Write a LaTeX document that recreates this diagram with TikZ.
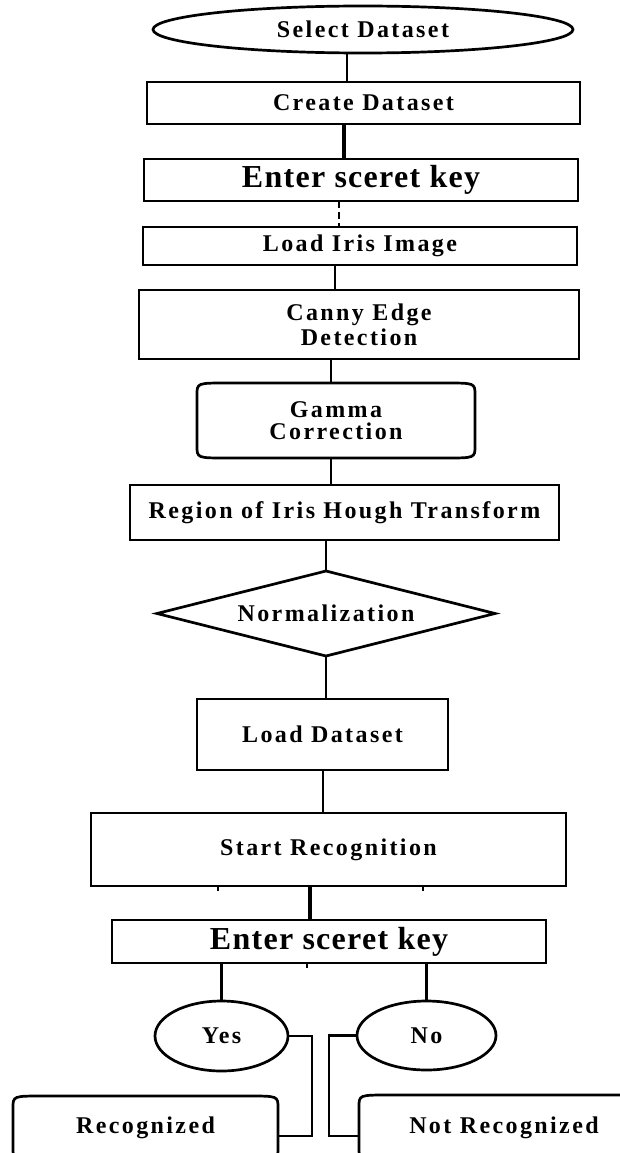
\documentclass[tikz,border=0pt]{standalone}
\usepackage{fontspec}
\setmainfont{Liberation Serif}
\newfontfamily\lblfont{Liberation Serif}[LetterSpace=10]
\newfontfamily\keyfont{Liberation Serif}[LetterSpace=4]
\usetikzlibrary{shapes.geometric}

\begin{document}
\begin{tikzpicture}[x=1pt,y=-1pt,line width=2.7pt,
		font=\lblfont\bfseries\fontsize{24}{25}\selectfont]
		\tikzstyle{box}=[draw,rectangle,inner sep=0pt,outer sep=0pt,align=center]
		\tikzstyle{oval}=[draw,ellipse,inner sep=0pt,outer sep=0pt]
		\tikzstyle{curved}=[rectangle,inner sep=0pt,outer sep=0pt,align=center]
		\tikzstyle{keybox}=[box,font=\keyfont\bfseries\fontsize{32}{32}\selectfont]

		\useasboundingbox (0,0) rectangle (619,1153);

		\node[oval,minimum width=420pt,minimum height=47pt] (sel) at (363,29.5) {Select Dataset};
		\node[box,minimum width=433pt,minimum height=42pt] (crt) at (363.5,103) {Create Dataset};
		\node[keybox,minimum width=434pt,minimum height=42pt] (key1) at (361,180) {Enter sceret key};
		\node[box,minimum width=434pt,minimum height=38pt] (iris) at (360,246) {Load Iris Image};
		\node[box,minimum width=440pt,minimum height=69pt] (canny) at (359,324.5) {Canny Edge\\Detection};
		\node[curved,minimum width=278pt,minimum height=75pt,
			font=\lblfont\bfseries\fontsize{24}{22}\selectfont] (gam) at (336,420.5) {Gamma\\Correction};
		\node[box,minimum width=429pt,minimum height=55pt] (hough) at (344.5,512.5) {Region of Iris Hough Transform};
		\node[draw,diamond,aspect=4,inner sep=0pt,outer sep=0pt,minimum width=338pt,minimum height=85pt] (norm) at (326,613.5) {Normalization};
		\node[box,minimum width=251pt,minimum height=71pt] (lds) at (322.5,734.5) {Load Dataset};
		\node[box,minimum width=475pt,minimum height=73pt] (rcg) at (328.5,849.5) {Start Recognition};
		\node[keybox,minimum width=434pt,minimum height=43pt] (key2) at (329,941.5) {Enter sceret key};
		\node[oval,minimum width=133pt,minimum height=70pt] (yes) at (221.5,1036) {Yes};
		\node[oval,minimum width=139pt,minimum height=69pt] (no) at (426.5,1035.5) {No};
		\node[curved,minimum width=265pt,minimum height=64pt] (rec) at (145.5,1128) {Recognized};
		\node[curved,minimum width=290pt,minimum height=65pt] (nrec) at (504,1127.5) {Not Recognized};

		% outlines with flat top and bottom
		\foreach \n in {gam,rec,nrec}
			\draw ([yshift=12pt]\n.south west) -- ([yshift=-12pt]\n.north west)
				.. controls (\n.north west) .. ([xshift=30pt]\n.north west)
				-- ([xshift=-30pt]\n.north east)
				.. controls (\n.north east) .. ([yshift=-12pt]\n.north east)
				-- ([yshift=12pt]\n.south east)
				.. controls (\n.south east) .. ([xshift=-30pt]\n.south east)
				-- ([xshift=30pt]\n.south west)
				.. controls (\n.south west) .. cycle;

		% main flow
		\draw ([xshift=-16pt]sel.south) -- ([xshift=-16pt]sel.south |- crt.north);
		\draw[line width=4pt] ([xshift=-19.5pt]crt.south) -- ([xshift=-19.5pt]crt.south |- key1.north);
		\draw[dash pattern=on 7pt off 4pt] ([xshift=-22pt]key1.south) -- ([xshift=-22pt]key1.south |- iris.north);
		\draw ([xshift=-25pt]iris.south) -- ([xshift=-25pt]iris.south |- canny.north);
		\draw ([xshift=-28pt]canny.south) -- ([xshift=-28pt]canny.south |- gam.north);
		\draw ([xshift=-5pt]gam.south) -- ([xshift=-5pt]gam.south |- hough.north);
		\draw (norm.north |- hough.south) -- (norm.north);
		\draw (norm.south) -- (norm.south |- lds.north);
		\draw ([xshift=0.5pt]lds.south) -- ([xshift=0.5pt]lds.south |- rcg.north);
		\draw[line width=4pt] ([xshift=-18.5pt]rcg.south) -- ([xshift=-18.5pt]rcg.south |- key2.north);
		\draw[line width=2pt] ([xshift=-110.5pt]rcg.south) -- ++(0,5);
		\draw[line width=2pt] ([xshift=94.5pt]rcg.south) -- ++(0,5);
		\draw[line width=2pt] ([xshift=-22pt]key2.south) -- ++(0,5);

		% answers
		\draw (yes.north |- key2.south) -- (yes.north);
		\draw (no.north |- key2.south) -- (no.north);
		\draw (yes.east) -- ++(24,0) |- ([yshift=-8pt]rec.east);
		\draw (no.west) -- ++(-28,0) |- ([yshift=-8.5pt]nrec.west);
\end{tikzpicture}
\end{document}
